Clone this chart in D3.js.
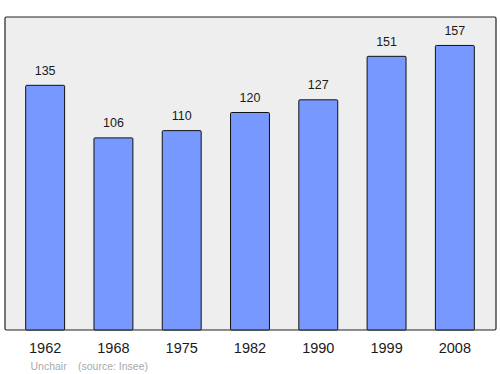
<html>
  <head>
    <style>
      body { margin:0; background:#fff; }
      text { font-family: "Liberation Sans", Arial, sans-serif; }
      .val { font-size:12.5px; text-anchor:middle; fill:#1a1a1a; }
      .year { font-size:14.5px; text-anchor:middle; fill:#1a1a1a; }
      .foot { font-size:10.5px; fill:#aaaaaa; }
    </style>
    <script src="https://d3js.org/d3.v7.min.js"></script>
  </head>
  <body>
    <script>
      const years = ['1962','1968','1975','1982','1990','1999','2008']
      const population = [135,106,110,120,127,151,157]

      const W = 500, H = 374
      const box = {left:5, top:17, right:496, bottom:330}

      const svg = d3.select('body').append('svg')
        .attr('width',W).attr('height',H)

      const x = d3.scaleBand().domain(years).range([11,489]).paddingInner(0.43).paddingOuter(0.215)
      const y = d3.scaleLinear().domain([0, d3.max(population)*1.1]).range([box.bottom, box.top])

      svg.append('rect')
        .attr('x',box.left).attr('y',box.top)
        .attr('width',box.right-box.left).attr('height',box.bottom-box.top)
        .attr('rx',1.5)
        .attr('fill','#eeeeee').attr('stroke','#222').attr('stroke-width',1.2)

      const data = years.map((yr,i) => ({yr, v:population[i]}))

      svg.append('g').selectAll('rect').data(data).enter().append('rect')
        .attr('x',d => x(d.yr)).attr('y',d => y(d.v))
        .attr('width',x.bandwidth()).attr('height',d => box.bottom - y(d.v))
        .attr('rx',1)
        .attr('fill','#7799ff').attr('stroke','#111').attr('stroke-width',1)

      svg.append('g').selectAll('text').data(data).enter().append('text')
        .classed('val',true)
        .attr('x',d => x(d.yr)+x.bandwidth()/2)
        .attr('y',d => y(d.v)-10.5)
        .text(d => d.v)

      svg.append('g').selectAll('text').data(years).enter().append('text')
        .classed('year',true)
        .attr('x',d => x(d)+x.bandwidth()/2)
        .attr('y',353)
        .text(d => d)

      svg.append('text').classed('foot',true).attr('x',30.5).attr('y',369.5).text('Unchair')
      svg.append('text').classed('foot',true).attr('x',78).attr('y',369.5).text('(source: Insee)')
    </script>
  </body>
</html>
